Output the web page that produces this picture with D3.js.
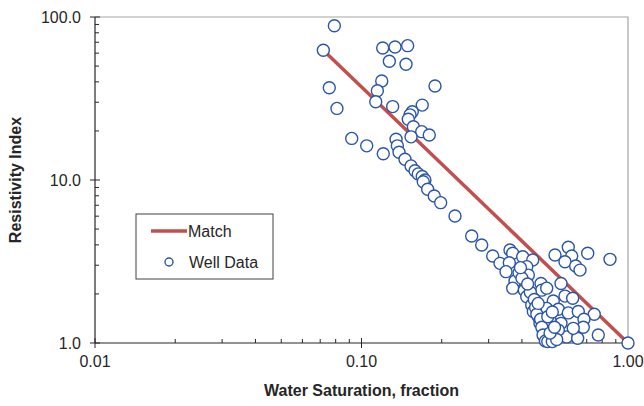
<!DOCTYPE html>
<html>
<head>
<meta charset="utf-8">
<script src="https://cdn.jsdelivr.net/npm/d3@7"></script>
<style>
  body { margin: 0; background: #fff; }
  text { font-family: "Liberation Sans", Arial, sans-serif; fill: #262626; }
</style>
</head>
<body>
<div id="chart"></div>
<script>
// Chart size and plot area
const width = 644;
const height = 406;
const margin = {left: 95, right: 16, top: 17, bottom: 63};

// Well data: water saturation (fraction) and resistivity index
const wellSw = [
  0.0791, 0.0719, 0.1201, 0.1336, 0.1490, 0.1272, 0.1469, 0.0757, 0.1191, 0.1147,
  0.1131, 0.0809, 0.1309, 0.1887, 0.1690, 0.1551, 0.1521, 0.1498, 0.1565, 0.1682,
  0.1796, 0.1534, 0.0919, 0.1046, 0.1207, 0.1348, 0.1363, 0.1383, 0.1456, 0.1534,
  0.1588, 0.1633, 0.1690, 0.1730, 0.1705, 0.1771, 0.1875, 0.1982, 0.2243,
  0.2591, 0.2825, 0.3107, 0.3607, 0.3693, 0.4027, 0.4390, 0.3309, 0.3586, 0.3485,
  0.4169, 0.4227, 0.3767, 0.3693, 0.4083, 0.4715, 0.4745, 0.4169, 0.4352, 0.4413,
  0.4607, 0.4675, 0.4811, 0.4882, 0.5172, 0.5557, 0.5888, 0.6474, 0.7736, 1.0000,
  0.5322, 0.5970, 0.6147, 0.5801, 0.6363, 0.6605, 0.7060, 0.8560, 0.5605, 0.4954,
  0.5801, 0.6201, 0.5244, 0.4954, 0.5476, 0.5970, 0.6508, 0.7471, 0.6837, 0.6796,
  0.6232, 0.5605, 0.5128, 0.5476, 0.5097,
  0.4300, 0.4450, 0.4500, 0.4550, 0.4700, 0.4750, 0.4800, 0.4900, 0.5000, 0.5200,
  0.5400, 0.5100, 0.5300, 0.5000, 0.5200, 0.3900, 0.4000, 0.4200, 0.4600, 0.3950
];
const wellRI = [
  88.4, 62.5, 64.5, 65.5, 66.7, 53.5, 51.3, 36.8, 40.5, 35.3,
  30.2, 27.5, 28.2, 37.7, 28.8, 26.2, 25.1, 23.6, 21.2, 19.8,
  18.9, 18.4, 18.0, 16.2, 14.5, 17.8, 16.2, 14.8, 13.4, 12.2,
  11.4, 10.9, 10.5, 10.0, 9.76, 8.77, 7.98, 7.26, 6.01,
  4.53, 3.99, 3.42, 3.72, 3.55, 3.38, 3.23, 3.08, 3.11, 2.74,
  2.94, 2.61, 2.40, 2.17, 2.11, 2.32, 2.11, 1.92, 1.71, 1.56,
  1.45, 1.32, 1.17, 1.07, 1.08, 1.12, 1.09, 1.07, 1.12, 1.00,
  3.47, 3.87, 3.42, 3.15, 2.97, 2.80, 3.55, 3.26, 2.32, 2.17,
  1.94, 1.88, 1.81, 1.63, 1.61, 1.53, 1.56, 1.50, 1.40, 1.25,
  1.23, 1.32, 1.27, 1.20, 1.38,
  2.05, 1.85, 1.65, 1.50, 1.40, 1.25, 1.12, 1.03, 1.02, 1.02,
  1.05, 1.15, 1.25, 1.45, 1.55, 2.70, 2.50, 2.30, 1.75, 2.90
];

// Match line end points
const matchSw = [0.0719, 1.0];
const matchRI = [62.5, 1.0];

// Axis tick labels
const xTicks = [0.01, 0.1, 1];
const xTickLabels = ["0.01", "0.10", "1.00"];
const yTicks = [1, 10, 100];
const yTickLabels = ["1.0", "10.0", "100.0"];

const pointColor = "#2b56a8";
const lineColor = "#c0504d";

const svg = d3.select("#chart")
  .append("svg")
  .attr("width", width)
  .attr("height", height);

const x = d3.scaleLog()
  .domain([0.01, 1])
  .range([margin.left, width - margin.right]);

const y = d3.scaleLog()
  .domain([1, 100])
  .range([height - margin.bottom, margin.top]);

const x0 = margin.left, x1 = width - margin.right;
const y0 = height - margin.bottom, y1 = margin.top;

// Light frame on top and right
svg.append("path")
  .attr("d", `M${x0},${y1}H${x1}V${y0}`)
  .attr("fill", "none")
  .attr("stroke", "#a6a6a6")
  .attr("stroke-width", 1.2);

// Minor ticks for the log axes (2..9 in each decade)
const minor = [];
[0.01, 0.1].forEach(d => { for (let k = 2; k < 10; k++) minor.push(d * k); });
const minorY = [];
[1, 10].forEach(d => { for (let k = 2; k < 10; k++) minorY.push(d * k); });

// x axis
const xAxis = svg.append("g").attr("transform", `translate(0,${y0})`);
xAxis.append("line").attr("x1", x0).attr("x2", x1).attr("stroke", "#262626").attr("stroke-width", 1.2);
xAxis.selectAll(".minor").data(minor).enter().append("line")
  .attr("x1", d => x(d)).attr("x2", d => x(d))
  .attr("y1", 0).attr("y2", -4)
  .attr("stroke", "#262626");
xAxis.selectAll(".major").data(xTicks).enter().append("line")
  .attr("x1", d => x(d)).attr("x2", d => x(d))
  .attr("y1", 5).attr("y2", -5)
  .attr("stroke", "#262626");
xAxis.selectAll(".lbl").data(xTicks).enter().append("text")
  .attr("x", d => x(d)).attr("y", 24)
  .attr("text-anchor", "middle")
  .attr("font-size", "16px")
  .text((d, i) => xTickLabels[i]);

// y axis
const yAxis = svg.append("g").attr("transform", `translate(${x0},0)`);
yAxis.append("line").attr("y1", y0).attr("y2", y1).attr("stroke", "#262626").attr("stroke-width", 1.2);
yAxis.selectAll(".minor").data(minorY).enter().append("line")
  .attr("y1", d => y(d)).attr("y2", d => y(d))
  .attr("x1", 0).attr("x2", 4)
  .attr("stroke", "#262626");
yAxis.selectAll(".major").data(yTicks).enter().append("line")
  .attr("y1", d => y(d)).attr("y2", d => y(d))
  .attr("x1", -5).attr("x2", 5)
  .attr("stroke", "#262626");
yAxis.selectAll(".lbl").data(yTicks).enter().append("text")
  .attr("x", -14).attr("y", d => y(d))
  .attr("dy", "0.35em")
  .attr("text-anchor", "end")
  .attr("font-size", "16px")
  .text((d, i) => yTickLabels[i]);

// Axis titles
svg.append("text")
  .attr("x", (x0 + x1) / 2).attr("y", 396)
  .attr("text-anchor", "middle")
  .attr("font-size", "16px").attr("font-weight", "bold")
  .text("Water Saturation, fraction");

svg.append("text")
  .attr("transform", `translate(21,${(y0 + y1) / 2}) rotate(-90)`)
  .attr("text-anchor", "middle")
  .attr("font-size", "16px").attr("font-weight", "bold")
  .text("Resistivity Index");

// Match line
svg.append("line")
  .attr("x1", x(matchSw[0])).attr("y1", y(matchRI[0]))
  .attr("x2", x(matchSw[1])).attr("y2", y(matchRI[1]))
  .attr("stroke", lineColor)
  .attr("stroke-width", 3.5);

// Well data points
svg.selectAll(".pt")
  .data(wellSw)
  .enter()
  .append("circle")
  .attr("class", "pt")
  .attr("cx", d => x(d))
  .attr("cy", (d, i) => y(wellRI[i]))
  .attr("r", 6)
  .attr("fill", "#fff")
  .attr("stroke", pointColor)
  .attr("stroke-width", 1.4);

// Legend
const legend = svg.append("g").attr("transform", "translate(136,214)");
legend.append("rect")
  .attr("width", 137).attr("height", 65)
  .attr("fill", "#fff")
  .attr("stroke", "#404040");
legend.append("line")
  .attr("x1", 15).attr("x2", 51).attr("y1", 17).attr("y2", 17)
  .attr("stroke", lineColor).attr("stroke-width", 3.5);
legend.append("text")
  .attr("x", 52).attr("y", 17).attr("dy", "0.35em")
  .attr("font-size", "16px").text("Match");
legend.append("circle")
  .attr("cx", 33).attr("cy", 48).attr("r", 4)
  .attr("fill", "#fff").attr("stroke", pointColor).attr("stroke-width", 1.4);
legend.append("text")
  .attr("x", 53).attr("y", 48).attr("dy", "0.35em")
  .attr("font-size", "16px").text("Well Data");
</script>
</body>
</html>
